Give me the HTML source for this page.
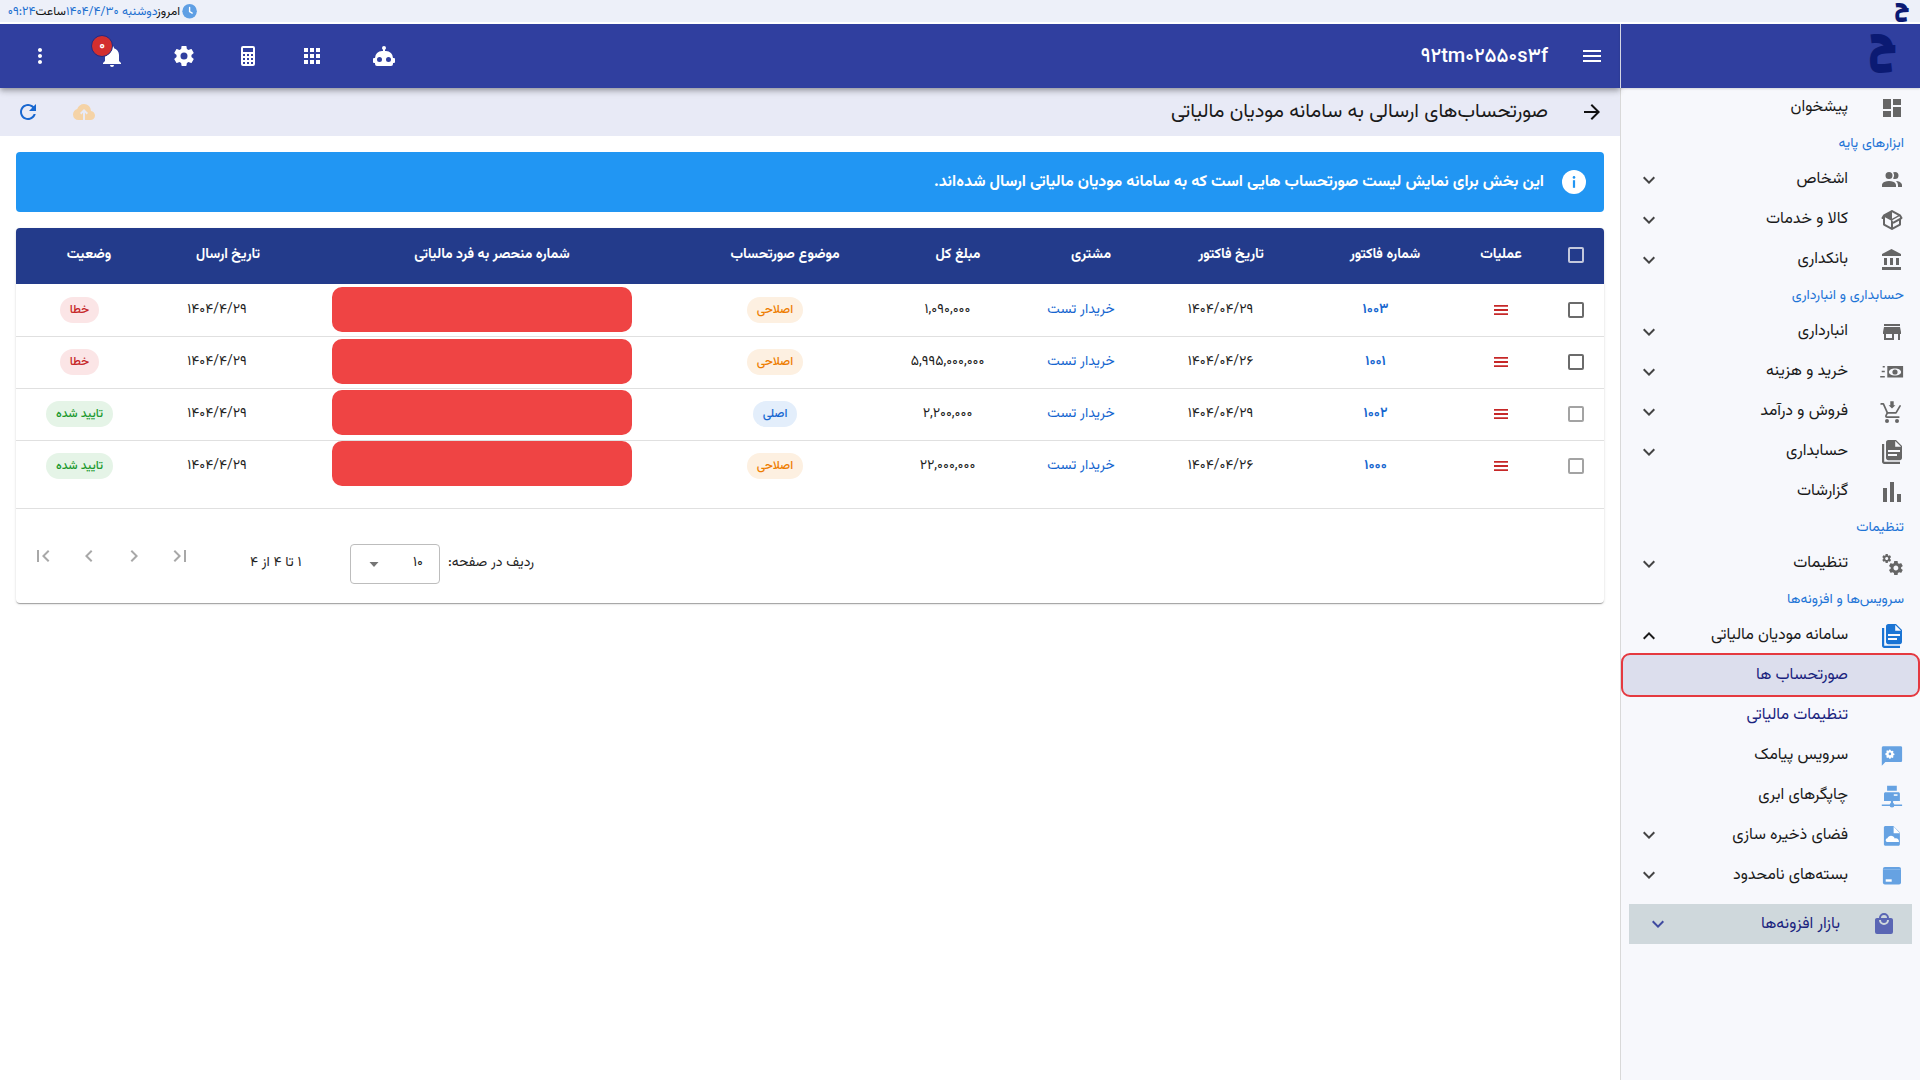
<!DOCTYPE html>
<html lang="fa">
<head>
<meta charset="utf-8">
<title>صورتحساب‌های ارسالی به سامانه مودیان مالیاتی</title>
<style>
*{box-sizing:border-box;margin:0;padding:0}
html,body{width:1920px;height:1080px;overflow:hidden;background:#fff;}
body{direction:rtl;font-family:"Vazirmatn","Liberation Sans",sans-serif;color:#1f1f1f}
svg{display:block}
.a{position:absolute}
#topstrip{position:absolute;left:0;top:0;width:1920px;height:22px;background:#edf0f9;z-index:5}
#header{position:absolute;left:0;top:24px;width:1620px;height:64px;background:#303f9f;box-shadow:0 2px 4px -1px rgba(0,0,0,.2),0 4px 5px 0 rgba(0,0,0,.14),0 1px 10px 0 rgba(0,0,0,.12);z-index:3}
#sidehead{position:absolute;left:1620px;top:24px;width:300px;height:64px;background:#303f9f;border-left:1px solid #d4d6e4;box-shadow:0 1px 2px rgba(0,0,0,.15);z-index:3}
#sidebar{position:absolute;left:1620px;top:88px;width:300px;height:992px;background:#f7f8fc;border-left:1px solid #d9d9d9}
#subhead{position:absolute;left:0;top:88px;width:1620px;height:48px;background:#e8eaf6}
.hic{position:absolute;top:20px;width:24px;height:24px}
.date{position:absolute;right:1740px;top:1.3px;height:22px;line-height:22px;font-size:12.2px;white-space:nowrap;direction:rtl;color:#111}
.blue{color:#1b6fd0}
/* alert */
#alert{position:absolute;left:16px;top:152px;width:1588px;height:60px;background:#2196f3;border-radius:4px;color:#fff;font-weight:700;font-size:16px}
/* table */
#card{position:absolute;left:16px;top:228px;width:1588px;height:375px;background:#fff;border-radius:4px;box-shadow:0 2px 1px -1px rgba(0,0,0,.2),0 1px 1px 0 rgba(0,0,0,.14),0 1px 3px 0 rgba(0,0,0,.12)}
#thead{position:absolute;left:0;top:0;width:1588px;height:56px;background:#233b8b;border-radius:4px 4px 0 0}
.th{position:absolute;top:-1px;height:56px;line-height:56px;color:#fff;font-weight:700;font-size:14px;text-align:center;width:240px;white-space:nowrap}
.row{position:absolute;left:0;width:1588px;height:53px;border-bottom:1px solid #e0e0e0}
.td{position:absolute;top:0;height:52px;line-height:52px;font-size:14px;text-align:center;width:240px;white-space:nowrap;color:#1f1f1f}
.link{color:#1565cf}
.chip{display:inline-block;height:26px;line-height:26px;border-radius:13px;padding:0 10px;font-size:12px;font-weight:500;vertical-align:middle;position:relative;top:1px}
.c-or{background:#fdf0e1;color:#ee7d00}
.c-bl{background:#e3eefb;color:#1667d0}
.c-rd{background:#fbe5e6;color:#c62828;font-weight:500}
.c-gr{background:#e5f4e7;color:#20992f}
.redblk{position:absolute;left:316px;top:3px;width:300px;height:45px;background:#ef4444;border-radius:10px}
.cb{position:absolute;left:1552px;width:16px;height:16px;border:2px solid #6b6b6b;border-radius:2px}
.ham{position:absolute;left:1478px;width:14px;height:10px}
/* sidebar */
.si{position:absolute;right:72px;height:40px;line-height:40px;font-size:16px;color:#1a1a1a;white-space:nowrap}
.sec{position:absolute;right:16px;height:32px;line-height:32px;font-size:14px;color:#1e74d6;white-space:nowrap}
.sic{position:absolute;left:259px;width:24px;height:24px}
.chev{position:absolute;left:16px;width:24px;height:24px}
</style>
</head>
<body>
<!-- top strip -->
<div id="topstrip">
  <div class="date"><span>امروز</span><span class="blue">دوشنبه ۱۴۰۴/۴/۳۰</span><span>ساعت</span><span class="blue">۰۹:۲۴</span></div>
  <svg class="a" style="left:182px;top:4px" width="16" height="16" viewBox="0 0 16 16"><circle cx="7.6" cy="7.25" r="7.25" fill="#5f9fe4"/><path d="M7.6 3.4v4.1l2.6 1.6" stroke="#fff" stroke-width="1.4" fill="none" stroke-linecap="round"/></svg>
  <div class="a" style="left:1894.2px;top:-4.3px;font-family:Changa,Vazirmatn,sans-serif;font-weight:800;font-size:24.3px;line-height:1;color:#0b1a73">ح</div>
</div>
<div class="a" style="left:0;top:22px;width:1920px;height:2px;background:#fff;z-index:5"></div>

<!-- header -->
<div id="header">
  <!-- more vert -->
  <svg class="hic" style="left:28px" viewBox="0 0 24 24"><path fill="#fff" d="M12 8c1.1 0 2-.9 2-2s-.9-2-2-2-2 .9-2 2 .9 2 2 2zm0 2c-1.1 0-2 .9-2 2s.9 2 2 2 2-.9 2-2-.9-2-2-2zm0 6c-1.1 0-2 .9-2 2s.9 2 2 2 2-.9 2-2-.9-2-2-2z"/></svg>
  <!-- bell -->
  <svg class="hic" style="left:100px" viewBox="0 0 24 24"><path fill="#fff" d="M21,19V20H3V19L5,17V11C5,7.9 7.03,5.17 10,4.29C10,4.19 10,4.1 10,4A2,2 0 0,1 12,2A2,2 0 0,1 14,4C14,4.1 14,4.19 14,4.29C16.97,5.17 19,7.9 19,11V17L21,19M14,21A2,2 0 0,1 12,23A2,2 0 0,1 10,21"/></svg>
  <div class="a" style="left:91px;top:11px;width:22px;height:22px;border-radius:50%;background:#d32f2f;border:1.5px solid #1f2b85;color:#fff;font-size:13px;line-height:20px;text-align:center;font-weight:700">۰</div>
  <!-- settings -->
  <svg class="hic" style="left:172px" viewBox="0 0 24 24"><path fill="#fff" d="M12,15.5A3.5,3.5 0 0,1 8.5,12A3.5,3.5 0 0,1 12,8.5A3.5,3.5 0 0,1 15.5,12A3.5,3.5 0 0,1 12,15.5M19.43,12.97C19.47,12.65 19.5,12.33 19.5,12C19.5,11.67 19.47,11.34 19.43,11L21.54,9.37C21.73,9.22 21.78,8.95 21.66,8.73L19.66,5.27C19.54,5.05 19.27,4.96 19.05,5.05L16.56,6.05C16.04,5.66 15.5,5.32 14.87,5.07L14.5,2.42C14.46,2.18 14.25,2 14,2H10C9.75,2 9.54,2.18 9.5,2.42L9.13,5.07C8.5,5.32 7.96,5.66 7.44,6.05L4.95,5.05C4.73,4.96 4.46,5.05 4.34,5.27L2.34,8.73C2.21,8.95 2.27,9.22 2.46,9.37L4.57,11C4.53,11.34 4.5,11.67 4.5,12C4.5,12.33 4.53,12.65 4.57,12.97L2.46,14.63C2.27,14.78 2.21,15.05 2.34,15.27L4.34,18.73C4.46,18.95 4.73,19.03 4.95,18.95L7.44,17.94C7.96,18.34 8.5,18.68 9.13,18.93L9.5,21.58C9.54,21.82 9.75,22 10,22H14C14.25,22 14.46,21.82 14.5,21.58L14.87,18.93C15.5,18.67 16.04,18.34 16.56,17.94L19.05,18.95C19.27,19.03 19.54,18.95 19.66,18.73L21.66,15.27C21.78,15.05 21.73,14.78 21.54,14.63L19.43,12.97Z"/></svg>
  <!-- calculator -->
  <svg class="hic" style="left:236px" viewBox="0 0 24 24"><path fill="#fff" d="M7,2H17A2,2 0 0,1 19,4V20A2,2 0 0,1 17,22H7A2,2 0 0,1 5,20V4A2,2 0 0,1 7,2M7,4V8H17V4H7M7,10V12H9V10H7M11,10V12H13V10H11M15,10V12H17V10H15M7,14V16H9V14H7M11,14V16H13V14H11M15,14V16H17V14H15M7,18V20H9V18H7M11,18V20H13V18H11M15,18V20H17V18H15Z"/></svg>
  <!-- apps -->
  <svg class="hic" style="left:300px" viewBox="0 0 24 24"><path fill="#fff" d="M4 8h4V4H4v4zm6 12h4v-4h-4v4zm-6 0h4v-4H4v4zm0-6h4v-4H4v4zm6 0h4v-4h-4v4zm6-10v4h4V4h-4zm-6 4h4V4h-4v4zm6 6h4v-4h-4v4zm0 6h4v-4h-4v4z"/></svg>
  <!-- robot -->
  <svg class="hic" style="left:372px" viewBox="0 0 24 24"><path fill="#fff" d="M12,2A2,2 0 0,1 14,4C14,4.74 13.6,5.39 13,5.73V7H14A7,7 0 0,1 21,14H22A1,1 0 0,1 23,15V18A1,1 0 0,1 22,19H21V20A2,2 0 0,1 19,22H5A2,2 0 0,1 3,20V19H2A1,1 0 0,1 1,18V15A1,1 0 0,1 2,14H3A7,7 0 0,1 10,7H11V5.73C10.4,5.39 10,4.74 10,4A2,2 0 0,1 12,2M7.5,13A2.5,2.5 0 0,0 5,15.5A2.5,2.5 0 0,0 7.5,18A2.5,2.5 0 0,0 10,15.5A2.5,2.5 0 0,0 7.5,13M16.5,13A2.5,2.5 0 0,0 14,15.5A2.5,2.5 0 0,0 16.5,18A2.5,2.5 0 0,0 19,15.5A2.5,2.5 0 0,0 16.5,13Z"/></svg>
  <!-- title -->
  <div class="a" style="right:72px;top:1.5px;height:64px;line-height:62px;font-size:20px;font-weight:500;color:#fff;direction:ltr">۹۲tm۰۲۵۵۰s۳f</div>
  <!-- menu -->
  <svg class="hic" style="left:1580px" viewBox="0 0 24 24"><path fill="#fff" d="M3 18h18v-2H3v2zm0-5h18v-2H3v2zm0-7v2h18V6H3z"/></svg>
</div>
<div id="sidehead">
  <div class="a" style="left:247px;top:-5.8px;font-family:Changa,Vazirmatn,sans-serif;font-weight:800;font-size:49.7px;line-height:1;color:#0b1a73;transform:scaleX(0.93);transform-origin:0 0">ح</div>
</div>

<!-- sub header -->
<div id="subhead">
  <svg class="a" style="left:16px;top:12px" width="24" height="24" viewBox="0 0 24 24"><path fill="#1867d0" d="M17.65 6.35C16.2 4.9 14.21 4 12 4c-4.42 0-7.99 3.58-7.99 8s3.57 8 7.99 8c3.73 0 6.84-2.55 7.73-6h-2.08c-.82 2.33-3.04 4-5.65 4-3.31 0-6-2.69-6-6s2.69-6 6-6c1.66 0 3.14.69 4.22 1.78L13 11h7V4l-2.35 2.35z"/></svg>
  <svg class="a" style="left:72px;top:12px" width="24" height="24" viewBox="0 0 24 24"><path fill="#f5d3a6" d="M11 20H6.5Q4.2 20 2.6 18.4T1 14.5Q1 12.55 2.175 11.025T5.25 9.1Q5.875 6.8 7.75 5.4T12 4Q14.925 4 16.963 6.038T19 11Q20.725 11.2 21.863 12.488T23 15.5Q23 17.375 21.688 18.688T18.5 20H13V12.85L14.6 14.4L16 13L12 9L8 13L9.4 14.4L11 12.85Z"/></svg>
  <div class="a" style="right:72px;top:1px;height:48px;line-height:46px;font-size:20px;color:#1a1a1a;white-space:nowrap">صورتحساب‌های ارسالی به سامانه مودیان مالیاتی</div>
  <svg class="a" style="left:1580px;top:12px" width="24" height="24" viewBox="0 0 24 24"><path fill="#111" d="M12 4l-1.41 1.41L16.17 11H4v2h12.17l-5.58 5.59L12 20l8-8z"/></svg>
</div>

<!-- alert -->
<div id="alert">
  <div class="a" style="right:60px;top:2px;height:60px;line-height:58px;white-space:nowrap">این بخش برای نمایش لیست صورتحساب هایی است که به سامانه مودیان مالیاتی ارسال شده‌اند.</div>
  <svg class="a" style="left:1546px;top:17.5px" width="24" height="24" viewBox="0 0 24 24"><circle cx="12" cy="12" r="12" fill="#fff"/><rect x="10.9" y="10.2" width="2.2" height="7.6" fill="#2196f3"/><circle cx="12" cy="7.4" r="1.3" fill="#2196f3"/></svg>
</div>

<!-- table card -->
<div id="card">
  <div id="thead">
    <div class="a" style="left:1552px;top:19px;width:16px;height:16px;border:2px solid #c3c8dc;border-radius:2px"></div>
    <div class="th" style="left:1365px">عملیات</div>
    <div class="th" style="left:1249px">شماره فاکتور</div>
    <div class="th" style="left:1095px">تاریخ فاکتور</div>
    <div class="th" style="left:955px">مشتری</div>
    <div class="th" style="left:822px">مبلغ کل</div>
    <div class="th" style="left:649px">موضوع صورتحساب</div>
    <div class="th" style="left:356px">شماره منحصر به فرد مالیاتی</div>
    <div class="th" style="left:92px">تاریخ ارسال</div>
    <div class="th" style="left:1px;width:144px">وضعیت</div>
  </div>
  <!-- rows inserted below -->
  <div class="row" style="top:56px;border-bottom:1px solid #e0e0e0;">
    <div class="cb" style="top:18px;border-color:#6b6b6b"></div>
    <svg class="ham" style="top:21px" viewBox="0 0 14 10"><path fill="#c62828" d="M0 0h14v1.8H0zM0 4.1h14v1.8H0zM0 8.2h14v1.8H0z"/></svg>
    <div class="td link" style="left:1239.5px;width:240px;font-weight:600">۱۰۰۳</div>
    <div class="td" style="left:1084.5px;width:240px">۱۴۰۴/۰۴/۲۹</div>
    <div class="td link" style="left:945.0px;width:240px">خریدار تست</div>
    <div class="td" style="left:811.5px;width:240px">۱,۰۹۰,۰۰۰</div>
    <div class="td" style="left:639.0px;width:240px"><span class="chip c-or">اصلاحی</span></div>
    <div class="td" style="left:81.0px;width:240px">۱۴۰۴/۴/۲۹</div>
    <div class="td" style="left:1.0px;width:125.0px"><span class="chip c-rd">خطا</span></div>
  </div>
  <div class="row" style="top:108px;border-bottom:1px solid #e0e0e0;">
    <div class="cb" style="top:18px;border-color:#6b6b6b"></div>
    <svg class="ham" style="top:21px" viewBox="0 0 14 10"><path fill="#c62828" d="M0 0h14v1.8H0zM0 4.1h14v1.8H0zM0 8.2h14v1.8H0z"/></svg>
    <div class="td link" style="left:1239.5px;width:240px;font-weight:600">۱۰۰۱</div>
    <div class="td" style="left:1084.5px;width:240px">۱۴۰۴/۰۴/۲۶</div>
    <div class="td link" style="left:945.0px;width:240px">خریدار تست</div>
    <div class="td" style="left:811.5px;width:240px">۵,۹۹۵,۰۰۰,۰۰۰</div>
    <div class="td" style="left:639.0px;width:240px"><span class="chip c-or">اصلاحی</span></div>
    <div class="td" style="left:81.0px;width:240px">۱۴۰۴/۴/۲۹</div>
    <div class="td" style="left:1.0px;width:125.0px"><span class="chip c-rd">خطا</span></div>
  </div>
  <div class="row" style="top:160px;border-bottom:1px solid #e0e0e0;">
    <div class="cb" style="top:18px;border-color:#a3a3a3"></div>
    <svg class="ham" style="top:21px" viewBox="0 0 14 10"><path fill="#c62828" d="M0 0h14v1.8H0zM0 4.1h14v1.8H0zM0 8.2h14v1.8H0z"/></svg>
    <div class="td link" style="left:1239.5px;width:240px;font-weight:600">۱۰۰۲</div>
    <div class="td" style="left:1084.5px;width:240px">۱۴۰۴/۰۴/۲۹</div>
    <div class="td link" style="left:945.0px;width:240px">خریدار تست</div>
    <div class="td" style="left:811.5px;width:240px">۲,۲۰۰,۰۰۰</div>
    <div class="td" style="left:639.0px;width:240px"><span class="chip c-bl">اصلی</span></div>
    <div class="td" style="left:81.0px;width:240px">۱۴۰۴/۴/۲۹</div>
    <div class="td" style="left:1.0px;width:125.0px"><span class="chip c-gr">تایید شده</span></div>
  </div>
  <div class="row" style="top:212px;border-bottom:none;">
    <div class="cb" style="top:18px;border-color:#a3a3a3"></div>
    <svg class="ham" style="top:21px" viewBox="0 0 14 10"><path fill="#c62828" d="M0 0h14v1.8H0zM0 4.1h14v1.8H0zM0 8.2h14v1.8H0z"/></svg>
    <div class="td link" style="left:1239.5px;width:240px;font-weight:600">۱۰۰۰</div>
    <div class="td" style="left:1084.5px;width:240px">۱۴۰۴/۰۴/۲۶</div>
    <div class="td link" style="left:945.0px;width:240px">خریدار تست</div>
    <div class="td" style="left:811.5px;width:240px">۲۲,۰۰۰,۰۰۰</div>
    <div class="td" style="left:639.0px;width:240px"><span class="chip c-or">اصلاحی</span></div>
    <div class="td" style="left:81.0px;width:240px">۱۴۰۴/۴/۲۹</div>
    <div class="td" style="left:1.0px;width:125.0px"><span class="chip c-gr">تایید شده</span></div>
  </div>
  <div class="redblk" style="top:59px"></div>
  <div class="redblk" style="top:111px"></div>
  <div class="redblk" style="top:162px"></div>
  <div class="redblk" style="top:213.3px"></div>
  <div class="a" style="left:0;top:280px;width:1588px;height:1px;background:#e0e0e0"></div>
  <!-- pagination -->
  <div class="a" style="left:432px;top:319px;font-size:14px;line-height:32px;white-space:nowrap">ردیف در صفحه:</div>
  <div class="a" style="left:334px;top:316px;width:90px;height:40px;border:1px solid #bdbdbd;border-radius:4px"></div>
  <div class="a" style="left:397px;top:319px;font-size:14px;line-height:32px">۱۰</div>
  <svg class="a" style="left:346px;top:324px" width="24" height="24" viewBox="0 0 24 24"><path fill="#757575" d="M7.5 10l4.5 5 4.5-5z"/></svg>
  <div class="a" style="left:234px;top:319px;font-size:14px;line-height:32px;white-space:nowrap">۱ تا ۴ از ۴</div>
  <svg class="a" style="left:15px;top:316px" width="24" height="24" viewBox="0 0 24 24"><path fill="#a8a8a8" d="M18.41 16.59L13.82 12l4.59-4.59L17 6l-6 6 6 6zM6 6h2v12H6z"/></svg>
  <svg class="a" style="left:61px;top:316px" width="24" height="24" viewBox="0 0 24 24"><path fill="#a8a8a8" d="M15.41 7.41L14 6l-6 6 6 6 1.41-1.41L10.83 12z"/></svg>
  <svg class="a" style="left:106px;top:316px" width="24" height="24" viewBox="0 0 24 24"><path fill="#a8a8a8" d="M10 6L8.59 7.41 13.17 12l-4.58 4.59L10 18l6-6z"/></svg>
  <svg class="a" style="left:152px;top:316px" width="24" height="24" viewBox="0 0 24 24"><path fill="#a8a8a8" d="M5.59 7.41L10.18 12l-4.59 4.59L7 18l6-6-6-6zM16 6h2v12h-2z"/></svg>
</div>

<!-- sidebar -->
<div id="sidebar">
<div class="si" style="top:0px">پیشخوان</div>
<svg class="sic" style="top:8px" viewBox="0 0 24 24"><path fill="#666" d="M13,3V9H21V3M13,21H21V11H13M3,21H11V15H3M3,13H11V3H3V13Z"/></svg>
<div class="sec" style="top:40px">ابزارهای پایه</div>
<div class="si" style="top:72px">اشخاص</div>
<svg class="sic" style="top:80px" viewBox="0 0 24 24"><path fill="#666" d="M16 17V19H2V17S2 13 9 13 16 17 16 17M12.5 7.5A3.5 3.5 0 1 0 9 11A3.5 3.5 0 0 0 12.5 7.5M15.94 13A5.32 5.32 0 0 1 18 17V19H22V17S22 13.37 15.94 13M15 4A3.39 3.39 0 0 0 13.07 4.59A5 5 0 0 1 13.07 10.41A3.39 3.39 0 0 0 15 11A3.5 3.5 0 0 0 15 4Z"/></svg>
<svg class="chev" style="top:80px" viewBox="0 0 24 24"><path fill="#444" d="M16.59 8.59L12 13.17 7.41 8.59 6 10l6 6 6-6z"/></svg>
<div class="si" style="top:112px">کالا و خدمات</div>
<svg class="sic" style="top:120px" viewBox="0 0 24 24"><path fill="#666" d="M2,10.96C1.5,10.68 1.35,10.07 1.63,9.59L3.13,7C3.24,6.8 3.41,6.66 3.6,6.58L11.43,2.18C11.59,2.06 11.79,2 12,2C12.21,2 12.41,2.06 12.57,2.18L20.47,6.62C20.66,6.72 20.82,6.88 20.91,7.08L22.36,9.6C22.64,10.08 22.47,10.69 22,10.96L21,11.54V16.5C21,16.88 20.79,17.21 20.47,17.38L12.57,21.82C12.41,21.94 12.21,22 12,22C11.79,22 11.59,21.94 11.43,21.82L3.53,17.38C3.21,17.21 3,16.88 3,16.5V10.96C2.7,11.13 2.32,11.14 2,10.96M12,4.15V4.15L12,10.85V10.85L17.96,7.5L12,4.15M5,15.91L11,19.29V12.58L5,9.21V15.91M19,15.91V12.69L14,15.59C13.67,15.77 13.3,15.76 13,15.6V19.29L19,15.91M13.08,13.87L20.17,9.78L19.29,8.25L12.2,12.34L13.08,13.87Z"/></svg>
<svg class="chev" style="top:120px" viewBox="0 0 24 24"><path fill="#444" d="M16.59 8.59L12 13.17 7.41 8.59 6 10l6 6 6-6z"/></svg>
<div class="si" style="top:152px">بانکداری</div>
<svg class="sic" style="top:160px" viewBox="0 0 24 24"><path fill="#666" d="M11.5,1L2,6V8H21V6M16,10V17H19V10M2,22H21V19H2M10,10V17H13V10M4,10V17H7V10H4Z"/></svg>
<svg class="chev" style="top:160px" viewBox="0 0 24 24"><path fill="#444" d="M16.59 8.59L12 13.17 7.41 8.59 6 10l6 6 6-6z"/></svg>
<div class="sec" style="top:192px">حسابداری و انبارداری</div>
<div class="si" style="top:224px">انبارداری</div>
<svg class="sic" style="top:232px" viewBox="0 0 24 24"><path fill="#666" d="M12,18H6V14H12M21,14V12L20,7H4L3,12V14H4V20H14V14H18V20H20V14M20,4H4V6H20V4Z"/></svg>
<svg class="chev" style="top:232px" viewBox="0 0 24 24"><path fill="#444" d="M16.59 8.59L12 13.17 7.41 8.59 6 10l6 6 6-6z"/></svg>
<div class="si" style="top:264px">خرید و هزینه</div>
<svg class="sic" style="top:272px" viewBox="0 0 24 24"><path fill="#666" fill-rule="evenodd" d="M7.3 5.9h15.8v11.7H7.3zM15 8.4c-3.4 0-6.1 1.6-6.1 3.6s2.7 3.6 6.1 3.6 6.1-1.6 6.1-3.6-2.7-3.6-6.1-3.6zM2.7 5.9h2.1v1.5H2.7zM1.7 10.8h3.1v1.5H1.7zM.2 15.9h4.6v1.5H.2z"/><circle cx="15" cy="12" r="2.6" fill="#666"/></svg>
<svg class="chev" style="top:272px" viewBox="0 0 24 24"><path fill="#444" d="M16.59 8.59L12 13.17 7.41 8.59 6 10l6 6 6-6z"/></svg>
<div class="si" style="top:304px">فروش و درآمد</div>
<svg class="sic" style="top:312px" viewBox="0 0 24 24"><g fill="none" stroke="#666" stroke-width="1.7" stroke-linejoin="round" stroke-linecap="round"><path d="M1.2 3.9H3.4L7.4 12.9H16L20.1 5.9"/><path d="M7.4 12.9L6 15.6Q5.6 17.1 7 17.1H18.8"/></g><circle cx="7" cy="21" r="2" fill="#666"/><circle cx="17" cy="21" r="2" fill="#666"/><path fill="#666" d="M10.3 1.2h3.4v4H15.4L12 8.5 8.6 5.2h1.7z"/></svg>
<svg class="chev" style="top:312px" viewBox="0 0 24 24"><path fill="#444" d="M16.59 8.59L12 13.17 7.41 8.59 6 10l6 6 6-6z"/></svg>
<div class="si" style="top:344px">حسابداری</div>
<svg class="sic" style="top:352px" viewBox="0 0 24 24"><path fill="#666" d="M2 4h2.2v17.8H20V24H4.2C3 24 2 23 2 21.8z"/><path fill="#666" d="M8.2 0H16l6 6v12c0 1.2-1 2.2-2.2 2.2H8.2C7 20.2 6 19.2 6 18V2.2C6 1 7 0 8.2 0z"/><path fill="#f7f8fc" d="M15.2 .9v5.9h5.9zM8 9.9h12v2.1H8zM8 14h9v2H8z"/></svg>
<svg class="chev" style="top:352px" viewBox="0 0 24 24"><path fill="#444" d="M16.59 8.59L12 13.17 7.41 8.59 6 10l6 6 6-6z"/></svg>
<div class="si" style="top:384px">گزارشات</div>
<svg class="sic" style="top:392px" viewBox="0 0 24 24"><path fill="#666" d="M3,22V8H7V22H3M10,22V2H14V22H10M17,22V14H21V22H17Z"/></svg>
<div class="sec" style="top:424px">تنظیمات</div>
<div class="si" style="top:456px">تنظیمات</div>
<svg class="sic" style="top:464px" viewBox="0 0 24 24"><path fill="#666" d="M15.9,18.45C17.25,18.45 18.35,17.35 18.35,16C18.35,14.65 17.25,13.55 15.9,13.55C14.54,13.55 13.45,14.65 13.45,16C13.45,17.35 14.54,18.45 15.9,18.45M21.1,16.68L22.58,17.84C22.71,17.95 22.75,18.13 22.66,18.29L21.26,20.71C21.17,20.86 21,20.92 20.83,20.86L19.09,20.16C18.73,20.44 18.33,20.67 17.91,20.85L17.64,22.7C17.62,22.87 17.47,23 17.3,23H14.5C14.32,23 14.18,22.87 14.15,22.7L13.89,20.85C13.46,20.67 13.07,20.44 12.71,20.16L10.96,20.86C10.81,20.92 10.62,20.86 10.54,20.71L9.14,18.29C9.05,18.13 9.09,17.95 9.22,17.84L10.7,16.68L10.65,16L10.7,15.31L9.22,14.16C9.09,14.05 9.05,13.86 9.14,13.71L10.54,11.29C10.62,11.13 10.81,11.07 10.96,11.13L12.71,11.84C13.07,11.56 13.46,11.32 13.89,11.15L14.15,9.29C14.18,9.13 14.32,9 14.5,9H17.3C17.47,9 17.62,9.13 17.64,9.29L17.91,11.15C18.33,11.32 18.73,11.56 19.09,11.84L20.83,11.13C21,11.07 21.17,11.13 21.26,11.29L22.66,13.71C22.75,13.86 22.71,14.05 22.58,14.16L21.1,15.31L21.15,16L21.1,16.68M6.69,8.07C7.56,8.07 8.26,7.37 8.26,6.5C8.26,5.63 7.56,4.92 6.69,4.92A1.58,1.58 0 0,0 5.11,6.5C5.11,7.37 5.82,8.07 6.69,8.07M10.03,6.94L11,7.68C11.07,7.75 11.09,7.87 11.03,7.97L10.13,9.53C10.08,9.63 9.96,9.67 9.86,9.63L8.74,9.18L8,9.62L7.81,10.81C7.79,10.92 7.7,11 7.59,11H5.79C5.67,11 5.58,10.92 5.56,10.81L5.4,9.62L4.64,9.18L3.5,9.63C3.41,9.67 3.3,9.63 3.24,9.53L2.34,7.97C2.28,7.87 2.31,7.75 2.39,7.68L3.34,6.94L3.31,6.5L3.34,6.06L2.39,5.32C2.31,5.25 2.28,5.13 2.34,5.03L3.24,3.47C3.3,3.37 3.41,3.33 3.5,3.37L4.63,3.82L5.4,3.38L5.56,2.19C5.58,2.08 5.67,2 5.79,2H7.59C7.7,2 7.79,2.08 7.81,2.19L8,3.38L8.74,3.82L9.86,3.37C9.96,3.33 10.08,3.37 10.13,3.47L11.03,5.03C11.09,5.13 11.07,5.25 11,5.32L10.03,6.06L10.06,6.5L10.03,6.94Z"/></svg>
<svg class="chev" style="top:464px" viewBox="0 0 24 24"><path fill="#444" d="M16.59 8.59L12 13.17 7.41 8.59 6 10l6 6 6-6z"/></svg>
<div class="sec" style="top:496px">سرویس‌ها و افزونه‌ها</div>
<div class="si" style="top:528px">سامانه مودیان مالیاتی</div>
<svg class="sic" style="top:536px" viewBox="0 0 24 24"><path fill="#1a74d4" d="M2 4h2.2v17.8H20V24H4.2C3 24 2 23 2 21.8z"/><path fill="#1a74d4" d="M8.2 0H16l6 6v12c0 1.2-1 2.2-2.2 2.2H8.2C7 20.2 6 19.2 6 18V2.2C6 1 7 0 8.2 0z"/><path fill="#f7f8fc" d="M15.2 .9v5.9h5.9zM8 9.9h12v2.1H8zM8 14h9v2H8z"/></svg>
<svg class="chev" style="top:536px" viewBox="0 0 24 24"><path fill="#1a1a1a" d="M7.41 15.41L12 10.83l4.59 4.58L18 14l-6-6-6 6z"/></svg>
<div class="a" style="left:0;top:565px;width:299px;height:44px;background:#dcdeed;border:2px solid #e53940;border-radius:9px"></div>
<div class="si" style="top:567.5px;color:#1a237e">صورتحساب ها</div>
<div class="si" style="top:608px;color:#1a237e">تنظیمات مالیاتی</div>
<div class="si" style="top:648px">سرویس پیامک</div>
<svg class="sic" style="top:656px" viewBox="0 0 24 24"><path fill="#66a2e2" d="M3.3 2.3h17.5c.7 0 1.3.6 1.3 1.3v13.1c0 .7-.6 1.3-1.3 1.3H5.4l-3.6 3.7V3.8c0-.8.7-1.5 1.5-1.5z"/><path fill="#fff" d="M10.5 5.8l.4 1 .8.3 1-.4.8.8-.4 1 .3.8 1 .4v1.2l-1 .4-.3.8.4 1-.8.8-1-.4-.8.3-.4 1H9.3l-.4-1-.8-.3-1 .4-.8-.8.4-1-.3-.8-1-.4V9.3l1-.4.3-.8-.4-1 .8-.8 1 .4.8-.3.4-1zm-.6 2.8a1.3 1.3 0 100 2.6 1.3 1.3 0 000-2.6z"/></svg>
<div class="si" style="top:688px">چاپگرهای ابری</div>
<svg class="sic" style="top:696px" viewBox="0 0 24 24"><path fill="#66a2e2" d="M7.1 1.8h9.7v4.9H7.1zM5.5 8.3h12.9c.8 0 1.5.7 1.5 1.5v7.3H4V9.8c0-.8.7-1.5 1.5-1.5zM10.9 17h2.2v2.5h-2.2zM1.8 20.5h20.3v1.5H1.8z"/><circle cx="12" cy="21.2" r="2.4" fill="#66a2e2"/><path fill="#fff" d="M13.8 10.3h3.7v1.5h-3.7z"/></svg>
<div class="si" style="top:728px">فضای ذخیره سازی</div>
<svg class="sic" style="top:736px" viewBox="0 0 24 24"><path fill="#66a2e2" d="M5.4 2.1h8L19.9 8.6v11.7c0 .8-.7 1.5-1.5 1.5h-13c-.8 0-1.5-.7-1.5-1.5V3.6c0-.8.7-1.5 1.5-1.5z"/><path fill="#fff" d="M13.6 2.6v6.7h6.3z"/><path fill="#fff" d="M7.6 18.1c-1.1 0-1.9-.9-1.9-1.9 0-1 .8-1.8 1.7-1.9.6-1.5 2-2.5 3.6-2.5 1.7 0 3.2 1.1 3.7 2.7.4-.2.8-.3 1.2-.3 1.6 0 2.9 1.2 3 2.7v1.2z"/></svg>
<svg class="chev" style="top:735px" viewBox="0 0 24 24"><path fill="#444" d="M16.59 8.59L12 13.17 7.41 8.59 6 10l6 6 6-6z"/></svg>
<div class="si" style="top:768px">بسته‌های نامحدود</div>
<svg class="sic" style="top:776px" viewBox="0 0 24 24"><rect x="2.9" y="3.1" width="18.1" height="17.3" rx="2" fill="#66a2e2"/><path fill="#8fbcec" d="M3.3 5h17.3v.7H3.3z"/><path fill="#fff" d="M5.7 15.3h6v2.4h-6z"/></svg>
<svg class="chev" style="top:775px" viewBox="0 0 24 24"><path fill="#444" d="M16.59 8.59L12 13.17 7.41 8.59 6 10l6 6 6-6z"/></svg>
<div class="a" style="left:8px;top:816px;width:283px;height:40px;background:#cfd8dc"></div>
<div class="si" style="top:817px;right:80px;color:#1a237e">بازار افزونه‌ها</div>
<svg class="sic" style="left:251px;top:824px" viewBox="0 0 24 24"><path fill="#5a66b4" d="M12,13A5,5 0 0,1 7,8H9A3,3 0 0,0 12,11A3,3 0 0,0 15,8H17A5,5 0 0,1 12,13M12,3A3,3 0 0,1 15,6H9A3,3 0 0,1 12,3M19,6H17A5,5 0 0,0 12,1A5,5 0 0,0 7,6H5C3.89,6 3,6.89 3,8V20A2,2 0 0,0 5,22H19A2,2 0 0,0 21,20V8C21,6.89 20.1,6 19,6Z"/></svg>
<svg class="chev" style="left:25px;top:823.5px" viewBox="0 0 24 24"><path fill="#3f4aa0" d="M16.59 8.59L12 13.17 7.41 8.59 6 10l6 6 6-6z"/></svg>
</div>
</body>
</html>
